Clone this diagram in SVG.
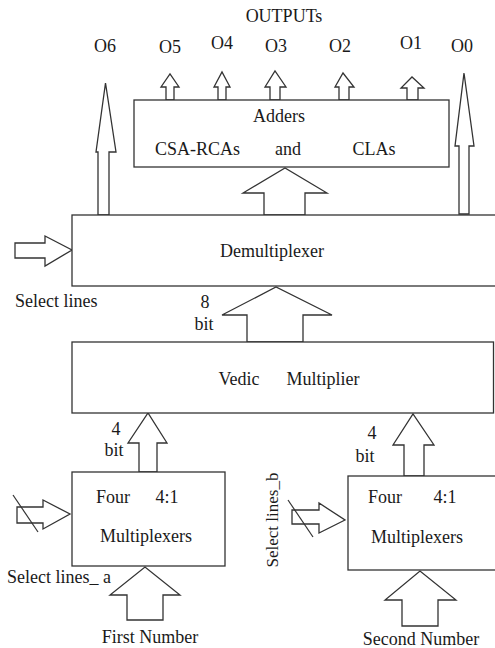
<svg xmlns="http://www.w3.org/2000/svg" width="495" height="648" viewBox="0 0 495 648">
<style>
.box{fill:#fff;stroke:#333;stroke-width:1.3}
.arr{fill:#fff;stroke:#333;stroke-width:1.3;stroke-linejoin:miter}
.ln{stroke:#333;stroke-width:1.2;fill:none}
text{font-family:"Liberation Serif","Times New Roman",serif;font-size:18px;fill:#1a1a1a}
.m{text-anchor:middle}
</style>
<rect width="495" height="648" fill="#fff"/>
<g id="labels-top">
<text class="m" x="284" y="22">OUTPUTs</text>
<text class="m" x="105" y="52">O6</text>
<text class="m" x="170" y="53">O5</text>
<text class="m" x="222" y="49">O4</text>
<text class="m" x="276" y="52">O3</text>
<text class="m" x="340" y="52">O2</text>
<text class="m" x="411" y="49">O1</text>
<text class="m" x="462" y="52">O0</text>
</g>
<g id="connectors">
<polygon class="arr" points="166,100 166,87 161,87 170,74 179,87 174,87 174,100"/>
<polygon class="arr" points="218,100 218,87 214,87 222,72 230,87 226,87 226,100"/>
<polygon class="arr" points="270,100 270,87 265,87 275,71 286,87 280,87 280,100"/>
<polygon class="arr" points="339,100 339,87 335,87 343,73 354,87 349,87 349,100"/>
<polygon class="arr" points="407,100 407,88 401,88 412,77 424,88 418,88 418,100"/>
<polygon class="arr" points="98,215 98,152 96,152 105.5,83 116,152 109,152 109,215"/>
<polygon class="arr" points="459,214 459,146 455,146 464,73 474,146 469,146 469,214"/>
<polygon class="arr" points="264,215 264,193 243,193 285,168 327,193 305,193 305,215"/>
<polygon class="arr" points="15,243 45,243 45,236 72,250 45,266 45,258 15,258"/>
<polygon class="arr" points="247,342 247,315 222,315 276,287 332,315 303,315 303,342"/>
<polygon class="arr" points="139,472 139,443 128,443 148,413 167,443 157,443 157,472"/>
<polygon class="arr" points="404,476 404,445 393,445 413,414 434,445 424,445 424,476"/>
<polygon class="arr" points="17,507 43,507 43,500 70,514 43,529 43,523 17,523"/>
<line class="ln" x1="13" y1="495" x2="38" y2="532"/>
<polygon class="arr" points="292,510 319,510 319,503 345,520 319,533 319,524 292,524"/>
<line class="ln" x1="288" y1="500" x2="313" y2="537"/>
<polygon class="arr" points="127,620 127,595 110,595 145,567 180,595 163,595 163,620"/>
<polygon class="arr" points="402,626 402,600 385,600 420,571 456,600 438,600 438,626"/>
</g>
<g id="adders">
<rect class="box" x="134" y="100" width="315" height="67"/>
<text class="m" x="279" y="122">Adders</text>
<text x="155" y="155">CSA-RCAs</text>
<text class="m" x="288" y="155">and</text>
<text class="m" x="374" y="155">CLAs</text>
</g>
<g id="demux">
<rect class="box" x="72" y="215" width="425" height="71"/>
<text class="m" x="272" y="257">Demultiplexer</text>
<text x="15" y="307">Select lines</text>
</g>
<g id="vedic">
<rect class="box" x="72" y="342" width="421.5" height="71"/>
<text class="m" x="239" y="385">Vedic</text>
<text class="m" x="323" y="385">Multiplier</text>
<text class="m" x="205" y="308">8</text>
<text class="m" x="204" y="330">bit</text>
</g>
<g id="mux-a">
<rect class="box" x="72" y="472" width="153" height="94"/>
<text class="m" x="113" y="503">Four</text>
<text class="m" x="167" y="503">4:1</text>
<text class="m" x="146" y="542">Multiplexers</text>
<text class="m" x="116" y="435">4</text>
<text class="m" x="114" y="456">bit</text>
<text x="7" y="583">Select lines_ a</text>
<text class="m" x="150" y="643">First Number</text>
</g>
<g id="mux-b">
<rect class="box" x="348" y="476" width="150" height="94"/>
<text class="m" x="385" y="503">Four</text>
<text class="m" x="445" y="503">4:1</text>
<text class="m" x="417" y="543">Multiplexers</text>
<text class="m" x="372" y="439">4</text>
<text class="m" x="365" y="462">bit</text>
<text class="m" style="font-size:17px" transform="translate(278,520) rotate(-90)">Select lines_b</text>
<text class="m" x="421" y="645">Second Number</text>
</g>
</svg>
